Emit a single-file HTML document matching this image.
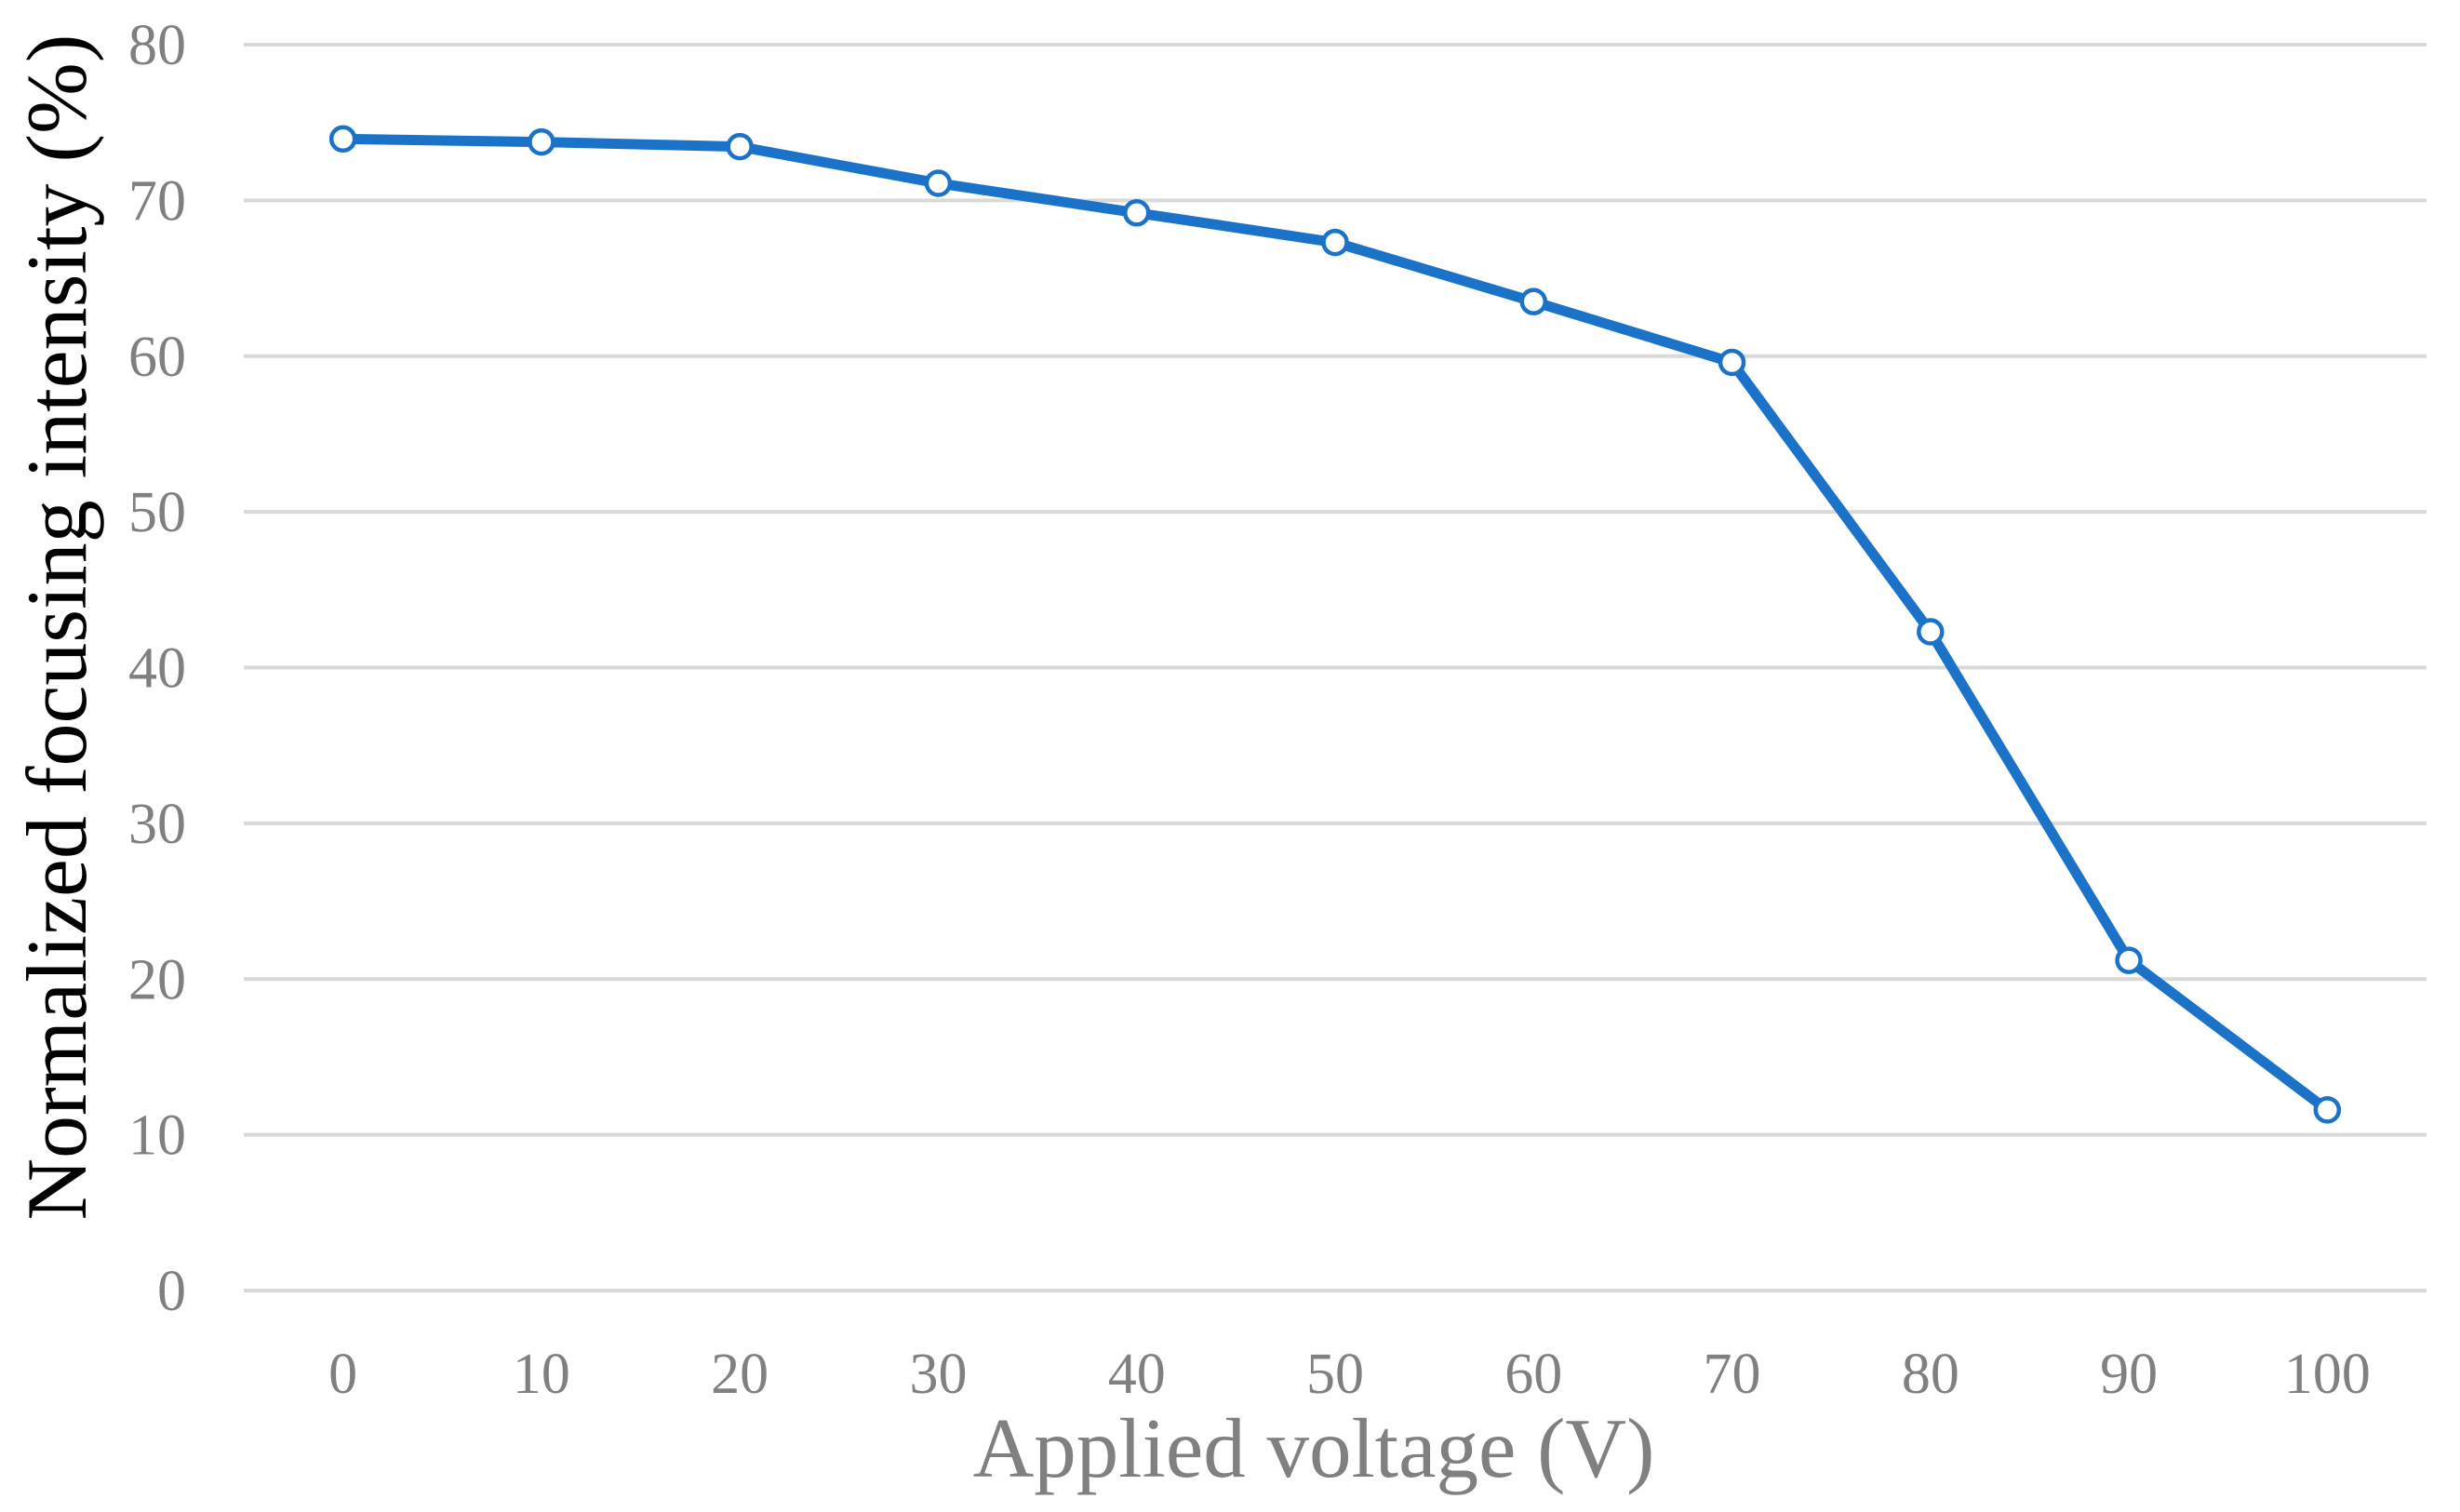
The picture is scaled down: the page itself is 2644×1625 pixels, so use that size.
<!DOCTYPE html>
<html><head><meta charset="utf-8">
<style>
html,body{margin:0;padding:0;background:#fff;}
svg{display:block;}
text{font-family:"Liberation Serif",serif;}
</style></head>
<body>
<svg id="chart" width="2644" height="1625" viewBox="0 0 2644 1625" xmlns="http://www.w3.org/2000/svg">
<g id="grid"></g>
<g id="ylabels"></g>
<g id="xlabels"></g>
<g id="series"></g>
<text x="1412" y="1587" text-anchor="middle" font-size="91" fill="#808080">Applied voltage (V)</text>
<text transform="translate(92,674) rotate(-90)" text-anchor="middle" font-size="92" fill="#000">Normalized focusing intensity (%)</text>
</svg>
<script>
const categories = ["0","10","20","30","40","50","60","70","80","90","100"];
const intensityValues = [73.95, 73.75, 73.45, 71.1, 69.2, 67.3, 63.5, 59.6, 42.3, 21.2, 11.6];
const yTicks = [0,10,20,30,40,50,60,70,80];

const NS = "http://www.w3.org/2000/svg";
const plotL = 262, plotR = 2608, yTop = 48, yBot = 1387, yMax = 80;
function xPos(i){ const w=(plotR-plotL)/categories.length; return plotL + w*(i+0.5); }
function yPos(v){ return yBot - (v/yMax)*(yBot-yTop); }

const grid=document.getElementById('grid');
const yl=document.getElementById('ylabels');
yTicks.forEach(t=>{
  const l=document.createElementNS(NS,'line');
  l.setAttribute('x1',plotL);l.setAttribute('x2',plotR);
  l.setAttribute('y1',yPos(t));l.setAttribute('y2',yPos(t));
  l.setAttribute('stroke','#d9d9d9');l.setAttribute('stroke-width','4');
  
  
  grid.appendChild(l);
  const tx=document.createElementNS(NS,'text');
  tx.setAttribute('x',200);tx.setAttribute('y',yPos(t)+21);
  tx.setAttribute('text-anchor','end');tx.setAttribute('font-size','62');tx.setAttribute('fill','#808080');
  tx.textContent=t;
  
  
  yl.appendChild(tx);
});
const xl=document.getElementById('xlabels');
categories.forEach((c,i)=>{
  const tx=document.createElementNS(NS,'text');
  tx.setAttribute('x',xPos(i));tx.setAttribute('y',1497);
  tx.setAttribute('text-anchor','middle');tx.setAttribute('font-size','62');tx.setAttribute('fill','#808080');
  tx.textContent=c;
  
  
  xl.appendChild(tx);
});
const s=document.getElementById('series');
const pl=document.createElementNS(NS,'polyline');
pl.setAttribute('points',intensityValues.map((v,i)=>xPos(i)+','+yPos(v)).join(' '));
pl.setAttribute('fill','none');pl.setAttribute('stroke','#1a73c8');pl.setAttribute('stroke-width','11');
pl.setAttribute('stroke-linejoin','round');


s.appendChild(pl);
intensityValues.forEach((v,i)=>{
  const c=document.createElementNS(NS,'circle');
  c.setAttribute('cx',xPos(i));c.setAttribute('cy',yPos(v));c.setAttribute('r','12.5');
  c.setAttribute('fill','#fff');c.setAttribute('stroke','#1a73c8');c.setAttribute('stroke-width','4.5');
  
  
  s.appendChild(c);
});
</script>
</body></html>
